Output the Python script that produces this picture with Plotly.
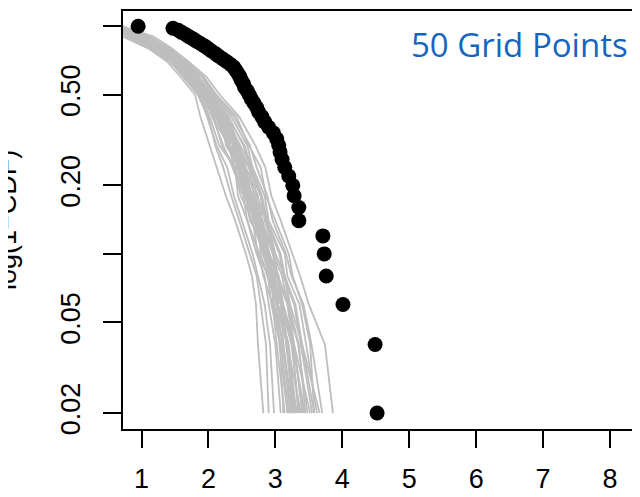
import plotly.graph_objects as go

# ---- data ----
surv_levels = [1.00, 0.90, 0.80, 0.70, 0.60, 0.50, 0.40, 0.30, 0.24, 0.18,
               0.14, 0.10, 0.08, 0.06, 0.04, 0.02]

sim_1 = [0.55, 0.72, 1.10, 1.38, 1.58, 1.80, 1.88, 2.02, 2.13, 2.26, 2.40, 2.56, 2.65, 2.71, 2.74, 2.82]
sim_2 = [0.72, 1.18, 1.45, 1.70, 1.97, 2.17, 2.46, 2.70, 2.85, 2.94, 3.08, 3.25, 3.37, 3.50, 3.74, 3.86]
sim_3 = [0.60, 0.85, 1.20, 1.48, 1.70, 1.92, 2.10, 2.40, 2.44, 2.55, 2.74, 2.78, 2.88, 3.02, 3.06, 3.18]
sim_4 = [0.68, 1.02, 1.33, 1.60, 1.82, 2.03, 2.30, 2.44, 2.60, 2.78, 2.84, 3.00, 3.14, 3.20, 3.35, 3.45]
sim_5 = [0.62, 0.90, 1.25, 1.52, 1.74, 1.95, 2.14, 2.30, 2.45, 2.62, 2.68, 2.84, 2.98, 3.10, 3.16, 3.28]
sim_6 = [0.66, 0.98, 1.30, 1.56, 1.78, 2.02, 2.18, 2.42, 2.50, 2.66, 2.80, 2.90, 3.04, 3.12, 3.28, 3.40]
sim_7 = [0.58, 0.80, 1.16, 1.44, 1.66, 1.88, 2.02, 2.16, 2.40, 2.44, 2.58, 2.72, 2.84, 2.90, 3.00, 3.08]
sim_8 = [0.70, 1.08, 1.38, 1.64, 1.90, 2.08, 2.34, 2.58, 2.66, 2.84, 2.90, 3.14, 3.18, 3.36, 3.46, 3.62]
sim_9 = [0.64, 0.94, 1.27, 1.54, 1.76, 1.97, 2.20, 2.32, 2.52, 2.58, 2.78, 2.86, 3.00, 3.04, 3.20, 3.30]
sim_10 = [0.61, 0.88, 1.22, 1.50, 1.72, 1.94, 2.12, 2.36, 2.42, 2.60, 2.76, 2.82, 2.92, 2.98, 3.12, 3.22]
sim_11 = [0.67, 1.00, 1.31, 1.58, 1.79, 2.00, 2.24, 2.46, 2.56, 2.74, 2.80, 2.98, 3.04, 3.20, 3.28, 3.52]
sim_12 = [0.63, 0.92, 1.26, 1.53, 1.75, 2.06, 2.12, 2.38, 2.54, 2.60, 2.77, 2.88, 3.03, 3.08, 3.24, 3.36]
sim_13 = [0.59, 0.82, 1.18, 1.46, 1.68, 1.90, 2.06, 2.22, 2.36, 2.52, 2.58, 2.76, 2.82, 2.96, 3.02, 3.14]
sim_14 = [0.69, 1.05, 1.36, 1.62, 1.85, 2.05, 2.30, 2.52, 2.62, 2.78, 2.86, 3.06, 3.12, 3.28, 3.38, 3.55]
sim_15 = [0.65, 0.96, 1.28, 1.55, 1.77, 1.98, 2.16, 2.40, 2.48, 2.64, 2.70, 2.88, 2.94, 3.08, 3.12, 3.26]
sim_16 = [0.60, 0.86, 1.21, 1.49, 1.71, 1.93, 2.20, 2.26, 2.46, 2.56, 2.72, 2.84, 2.95, 3.02, 3.18, 3.25]
sim_17 = [0.66, 0.99, 1.29, 1.57, 1.80, 2.01, 2.22, 2.44, 2.54, 2.70, 2.78, 2.96, 3.02, 3.18, 3.26, 3.44]
sim_18 = [0.62, 0.89, 1.23, 1.51, 1.73, 1.94, 2.15, 2.28, 2.44, 2.54, 2.69, 2.81, 2.94, 3.01, 3.18, 3.32]
sim_19 = [0.68, 1.03, 1.34, 1.61, 1.83, 2.04, 2.26, 2.48, 2.64, 2.72, 2.88, 3.00, 3.14, 3.22, 3.40, 3.58]
sim_20 = [0.57, 0.78, 1.14, 1.42, 1.64, 1.86, 1.98, 2.12, 2.28, 2.38, 2.50, 2.66, 2.74, 2.84, 2.92, 2.98]
sim_21 = [0.64, 0.93, 1.27, 1.54, 1.77, 1.98, 2.19, 2.36, 2.53, 2.62, 2.78, 2.90, 3.03, 3.10, 3.26, 3.34]
sim_22 = [0.71, 1.12, 1.41, 1.67, 1.91, 2.10, 2.38, 2.62, 2.72, 2.88, 2.96, 3.16, 3.24, 3.42, 3.54, 3.70]
sim_23 = [0.63, 0.91, 1.24, 1.52, 1.74, 1.96, 2.13, 2.37, 2.45, 2.63, 2.70, 2.89, 2.96, 3.10, 3.18, 3.38]
sim_24 = [0.61, 0.87, 1.22, 1.50, 1.72, 1.92, 2.10, 2.31, 2.38, 2.55, 2.62, 2.92, 2.94, 2.97, 3.08, 3.20]
sim_25 = [0.67, 1.01, 1.32, 1.59, 1.81, 2.02, 2.25, 2.43, 2.61, 2.68, 2.86, 2.97, 3.10, 3.18, 3.34, 3.48]
sim_26 = [0.58, 0.81, 1.17, 1.45, 1.67, 1.89, 2.08, 2.20, 2.39, 2.48, 2.66, 2.74, 2.89, 2.94, 3.07, 3.12]
sim_27 = [0.65, 0.97, 1.29, 1.56, 1.78, 1.99, 2.22, 2.38, 2.55, 2.64, 2.81, 2.91, 3.05, 3.11, 3.27, 3.42]
sim_28 = [0.69, 1.06, 1.37, 1.63, 1.86, 2.06, 2.28, 2.54, 2.64, 2.80, 2.88, 3.08, 3.14, 3.30, 3.40, 3.66]
sim_29 = [0.62, 0.90, 1.24, 1.51, 1.73, 1.95, 2.16, 2.30, 2.48, 2.57, 2.73, 2.83, 2.98, 3.04, 3.19, 3.28]
sim_30 = [0.60, 0.84, 1.19, 1.47, 1.69, 1.91, 2.06, 2.30, 2.39, 2.56, 2.64, 2.83, 2.89, 3.03, 3.10, 3.24]
sim_31 = [0.59, 0.83, 1.15, 1.43, 1.62, 1.84, 2.00, 2.10, 2.22, 2.34, 2.46, 2.62, 2.72, 2.78, 2.86, 2.90]
sim_32 = [0.70, 1.10, 1.40, 1.66, 1.93, 2.12, 2.42, 2.60, 2.78, 2.86, 3.00, 3.20, 3.26, 3.40, 3.52, 3.58]

sim_curves = [sim_1, sim_2, sim_3, sim_4, sim_5, sim_6, sim_7, sim_8, sim_9, sim_10,
              sim_11, sim_12, sim_13, sim_14, sim_15, sim_16, sim_17, sim_18, sim_19, sim_20,
              sim_21, sim_22, sim_23, sim_24, sim_25, sim_26, sim_27, sim_28, sim_29, sim_30,
              sim_31, sim_32]

obs_x = [0.95, 1.47, 1.55, 1.60, 1.66, 1.71, 1.77, 1.82, 1.88, 1.94,
         1.99, 2.04, 2.10, 2.15, 2.21, 2.27, 2.33, 2.38, 2.41, 2.44,
         2.47, 2.49, 2.52, 2.54, 2.58, 2.61, 2.64, 2.68, 2.72, 2.75,
         2.80, 2.84, 2.90, 2.97, 3.02, 3.05, 3.07, 3.10, 3.14, 3.20,
         3.26, 3.28, 3.35, 3.35, 3.71, 3.73, 3.76, 4.01, 4.49, 4.52]
obs_s = [1.00, 0.98, 0.96, 0.94, 0.92, 0.90, 0.88, 0.86, 0.84, 0.82,
         0.80, 0.78, 0.76, 0.74, 0.72, 0.70, 0.68, 0.66, 0.64, 0.62,
         0.60, 0.58, 0.56, 0.54, 0.52, 0.50, 0.48, 0.46, 0.44, 0.42,
         0.40, 0.38, 0.36, 0.34, 0.32, 0.30, 0.28, 0.26, 0.24, 0.22,
         0.20, 0.18, 0.16, 0.14, 0.12, 0.10, 0.08, 0.06, 0.04, 0.02]

x_tickvals = [1, 2, 3, 4, 5, 6, 7, 8]
y_tickvals = [0.02, 0.05, 0.1, 0.2, 0.5, 1.0]
y_ticktext = ["0.02", "0.05", "", "0.20", "0.50", ""]

FONT = "Liberation Sans, Arial, Helvetica, sans-serif"

fig = go.Figure()
for curve in sim_curves:
    fig.add_trace(go.Scatter(x=curve, y=surv_levels, mode="lines",
                             line=dict(color="#BEBEBE", width=1.8),
                             hoverinfo="skip", showlegend=False))
fig.add_trace(go.Scatter(x=obs_x, y=obs_s, mode="markers",
                         marker=dict(color="black", size=15, line=dict(width=0)),
                         showlegend=False))

# the page adds an 8px body margin, so the plot is placed 8px up/left to compensate
fig.update_layout(
    width=640, height=497,
    margin=dict(l=115, r=0, t=3, b=76),
    paper_bgcolor="white", plot_bgcolor="white",
    font=dict(family=FONT, size=27, color="black"),
    xaxis=dict(range=[0.7236, 8.567], tickvals=x_tickvals, automargin=False,
               ticks="outside", ticklen=17, tickwidth=2, tickcolor="black",
               showline=True, linewidth=2, linecolor="black", mirror=True,
               showgrid=False, zeroline=False,
               tickfont=dict(family=FONT, size=27, color="black"),
               ticklabelstandoff=8),
    yaxis=dict(type="log", range=[-1.769, 0.067], tickvals=y_tickvals,
               ticktext=y_ticktext, tickangle=-90, automargin=False,
               ticks="outside", ticklen=18, tickwidth=2, tickcolor="black",
               showline=True, linewidth=2, linecolor="black", mirror=False,
               showgrid=False, zeroline=False,
               tickfont=dict(family=FONT, size=27, color="black"),
               ticklabelstandoff=12),
    annotations=[
        dict(text="log(1\u2212CDF)", textangle=-90, xref="paper", yref="paper",
             x=0, y=0.5, xshift=-116, xanchor="center", yanchor="middle",
             showarrow=False, font=dict(family=FONT, size=27, color="black")),
        dict(text="50 Grid Points", xref="paper", yref="paper",
             x=0.756, y=0.9187, xanchor="center", yanchor="middle",
             showarrow=False, font=dict(family="Open Sans, sans-serif", size=33, color="#1565C0")),
    ],
)

fig.write_html("out.html")
